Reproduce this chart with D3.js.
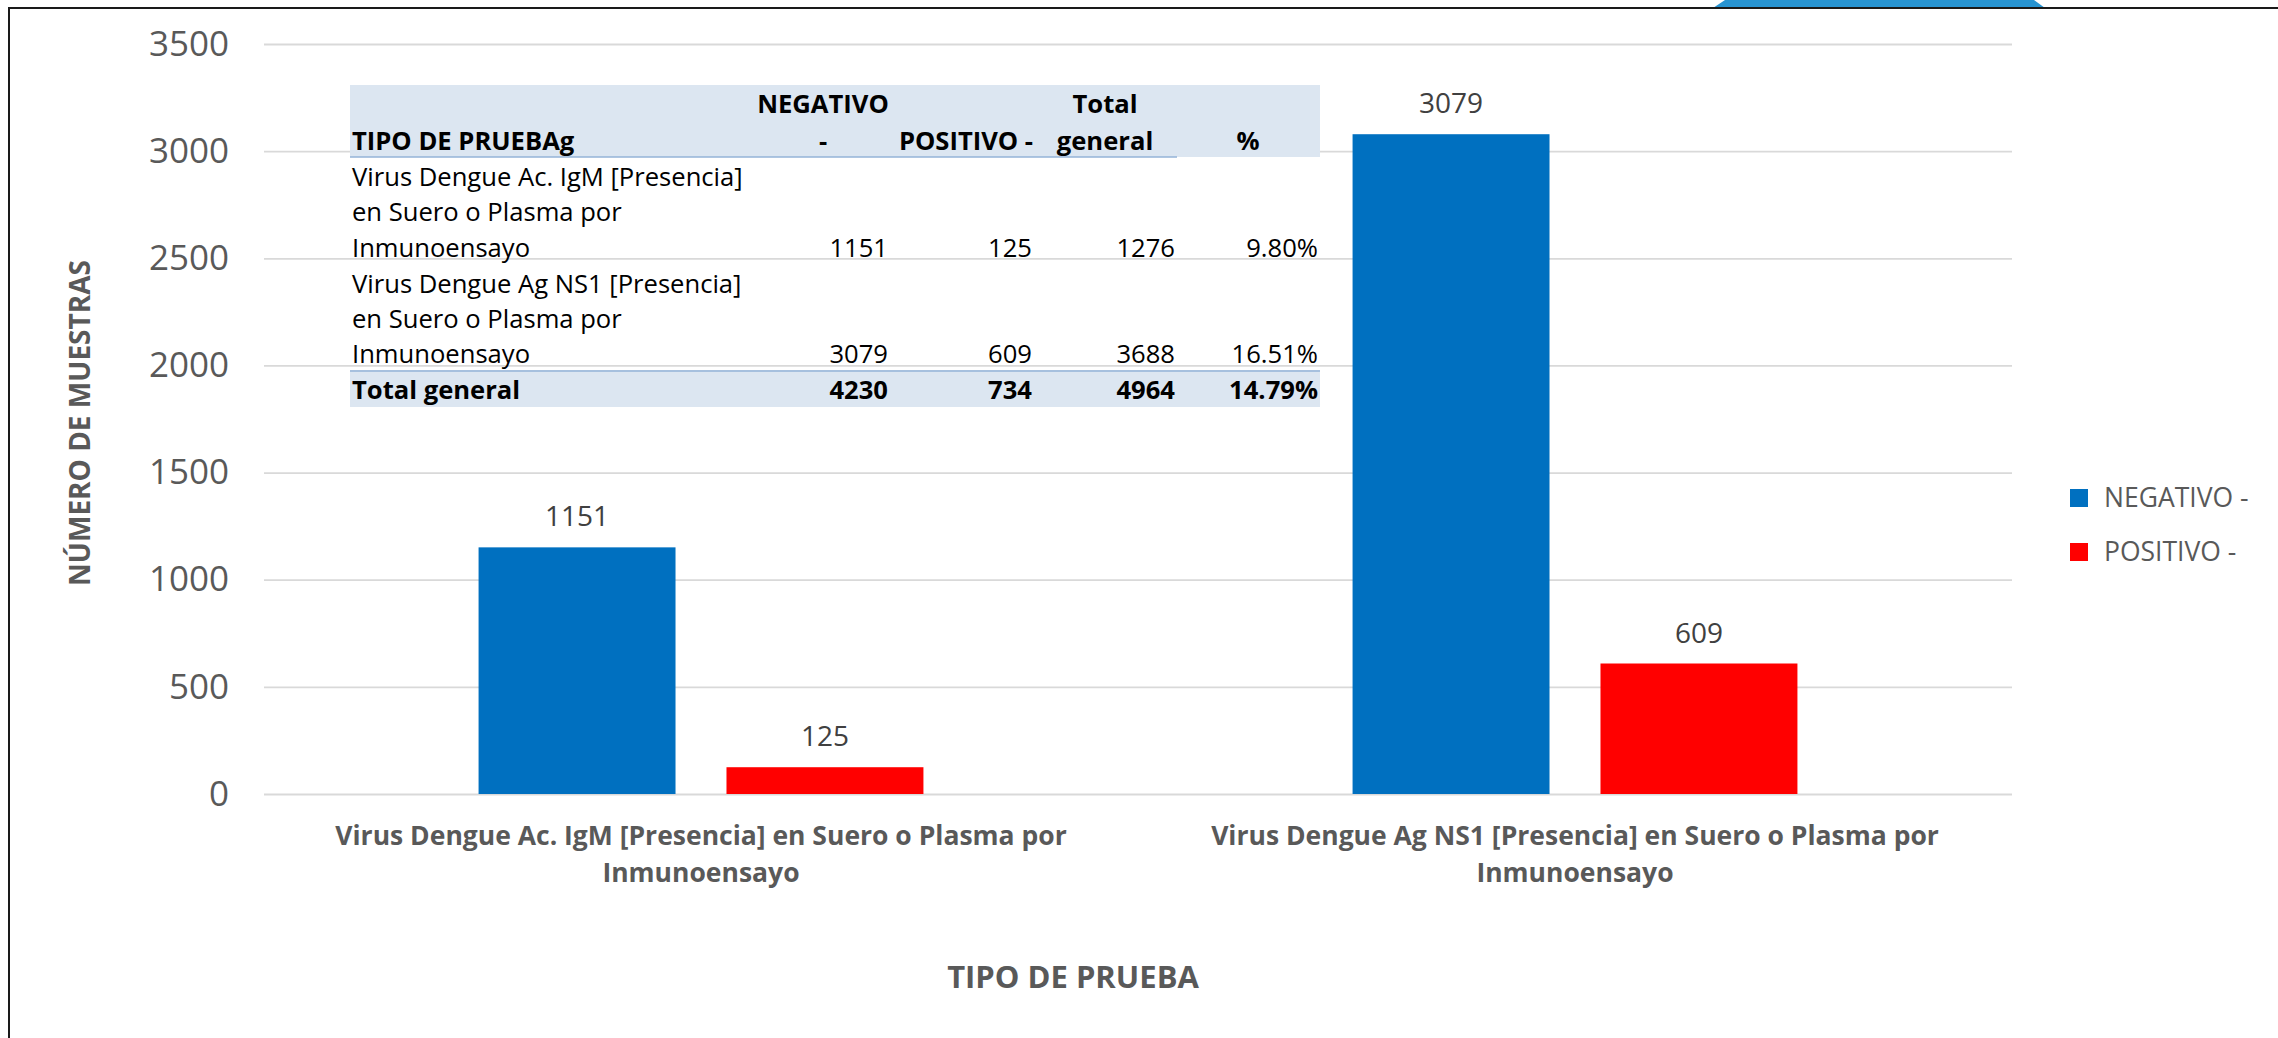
<!DOCTYPE html>
<html>
<head>
<meta charset="utf-8">
<script src="https://cdn.jsdelivr.net/npm/d3@7"></script>
<style>
  body { margin: 0; background: #fff; }
  svg { display: block; }
</style>
</head>
<body>
<svg id="chart" width="2278" height="1038"></svg>
<script>
// datos del grafico
var categories = ["Virus Dengue Ac. IgM [Presencia] en Suero o Plasma por Inmunoensayo",
                  "Virus Dengue Ag NS1 [Presencia] en Suero o Plasma por Inmunoensayo"]
var categoryLines = [["Virus Dengue Ac. IgM [Presencia] en Suero o Plasma por", "Inmunoensayo"],
                     ["Virus Dengue Ag NS1 [Presencia] en Suero o Plasma por", "Inmunoensayo"]]
var seriesNames = ["NEGATIVO -", "POSITIVO -"]
var negativo = [1151, 3079]
var positivo = [125, 609]
var yTicks = [0, 500, 1000, 1500, 2000, 2500, 3000, 3500]

// tabla dinamica
var tableHeader = [["NEGATIVO", "-"], ["", "POSITIVO -"], ["Total", "general"], ["", "%"]]
var tableRowLines = [["Virus Dengue Ac. IgM [Presencia]", "en Suero o Plasma por", "Inmunoensayo"],
                     ["Virus Dengue Ag NS1 [Presencia]", "en Suero o Plasma por", "Inmunoensayo"]]
var tableNeg = [1151, 3079]
var tablePos = [125, 609]
var tableTotal = [1276, 3688]
var tablePct = ["9.80%", "16.51%"]
var totalRow = ["Total general", "4230", "734", "4964", "14.79%"]

var svg = d3.select('#chart')
var width = 2278, height = 1038
var margin = ({top: 44, right: 266, bottom: 244, left: 264})

var gray = '#595959'
var font = "'Open Sans', 'Noto Sans', sans-serif"

var x0 = d3.scaleBand()
    .domain(categories)
    .range([margin.left, width - margin.right])
    .paddingInner(0.491)
    .paddingOuter(0.2455)

var x1 = d3.scaleBand()
    .domain(seriesNames)
    .range([0, x0.bandwidth()])
    .paddingInner(0.2056)

var y = d3.scaleLinear()
    .domain([0, 3500])
    .range([height - margin.bottom, margin.top])

var color = d3.scaleOrdinal().domain(seriesNames).range(['#0070c0', '#ff0000'])

var data = categories.map((c, i) => ({cat: c, values: [
    {key: seriesNames[0], value: negativo[i]},
    {key: seriesNames[1], value: positivo[i]}]}))

// forma azul arriba y borde
svg.append('path')
    .attr('d', 'M1725,0 L2034,0 L2045,8 L1713,8 Z')
    .attr('fill', '#2794d2')
svg.append('path')
    .attr('d', `M9,${height + 5} L9,8 L${width + 5},8`)
    .attr('fill', 'none')
    .attr('stroke', '#1a1a1a')
    .attr('stroke-width', 2)

// eje y + lineas de cuadricula
var yAxis = svg.append('g')
    .attr('transform', `translate(${margin.left},0)`)
    .call(d3.axisLeft(y).tickValues(yTicks).tickFormat(d3.format('d'))
        .tickSize(-(width - margin.left - margin.right)).tickPadding(35))
yAxis.select('.domain').remove()
yAxis.selectAll('line').attr('stroke', '#d9d9d9').attr('stroke-width', 1.8)
yAxis.selectAll('text')
    .attr('fill', gray)
    .attr('font-family', font)
    .attr('font-size', '35px')

// fondo de la tabla
var tLeft = 350, tRight = 1320
svg.append('rect').attr('x', tLeft).attr('y', 85).attr('width', tRight - tLeft).attr('height', 72).attr('fill', '#dce6f1')
svg.append('rect').attr('x', tLeft).attr('y', 370).attr('width', tRight - tLeft).attr('height', 37).attr('fill', '#dce6f1')
svg.append('line').attr('x1', tLeft).attr('x2', 1177).attr('y1', 157).attr('y2', 157).attr('stroke', '#95b3d7').attr('stroke-width', 1.5)
svg.append('line').attr('x1', tLeft).attr('x2', tRight).attr('y1', 371).attr('y2', 371).attr('stroke', '#95b3d7').attr('stroke-width', 1.5)

// barras
var groups = svg.append('g').selectAll('g')
    .data(data)
    .enter().append('g')
    .attr('transform', d => `translate(${x0(d.cat)},0)`)

groups.selectAll('rect')
    .data(d => d.values)
    .enter().append('rect')
    .attr('x', d => x1(d.key))
    .attr('y', d => y(d.value))
    .attr('width', x1.bandwidth())
    .attr('height', d => y(0) - y(d.value))
    .attr('fill', d => color(d.key))

groups.selectAll('text')
    .data(d => d.values)
    .enter().append('text')
    .attr('x', d => x1(d.key) + x1.bandwidth() / 2)
    .attr('y', d => y(d.value) - 21)
    .attr('text-anchor', 'middle')
    .attr('fill', '#404040')
    .attr('font-family', font)
    .attr('font-size', '28px')
    .text(d => d.value)

// etiquetas de categoria
categories.forEach(function(c, i) {
    svg.append('text')
        .attr('x', x0(c) + x0.bandwidth() / 2)
        .attr('text-anchor', 'middle')
        .attr('fill', gray)
        .attr('font-family', font)
        .attr('font-weight', 'bold')
        .attr('font-size', '26.5px')
        .selectAll('tspan').data(categoryLines[i])
        .enter().append('tspan')
        .attr('x', x0(c) + x0.bandwidth() / 2)
        .attr('y', (d, j) => 845 + j * 37)
        .text(d => d)
})

// titulos de ejes
svg.append('text')
    .attr('x', 1073)
    .attr('y', 988)
    .attr('text-anchor', 'middle')
    .attr('fill', gray)
    .attr('font-family', font)
    .attr('font-weight', 'bold')
    .attr('font-size', '31px')
    .text('TIPO DE PRUEBA')

svg.append('text')
    .attr('transform', 'translate(90,423) rotate(-90)')
    .attr('text-anchor', 'middle')
    .attr('fill', gray)
    .attr('font-family', font)
    .attr('font-weight', 'bold')
    .attr('font-size', '28px')
    .text('NÚMERO DE MUESTRAS')

// leyenda
var legend = svg.append('g')
legend.selectAll('rect').data(seriesNames)
    .enter().append('rect')
    .attr('x', 2070)
    .attr('y', (d, i) => 489 + i * 54)
    .attr('width', 18)
    .attr('height', 18)
    .attr('fill', d => color(d))
legend.selectAll('text').data(seriesNames)
    .enter().append('text')
    .attr('x', 2104)
    .attr('y', (d, i) => 498 + i * 54)
    .attr('dy', '0.35em')
    .attr('fill', gray)
    .attr('font-family', font)
    .attr('font-size', '26.5px')
    .text(d => d)

// texto de la tabla
var table = svg.append('g')
    .attr('font-family', font)
    .attr('font-size', '25.6px')
    .attr('fill', '#000')
var colCenter = [823, 966, 1105, 1248]
var colRight = [888, 1032, 1175, 1318]

table.append('text').attr('x', 352).attr('y', 150).attr('font-weight', 'bold').text('TIPO DE PRUEBAg')
tableHeader.forEach(function(h, i) {
    h.forEach(function(t, j) {
        table.append('text')
            .attr('x', colCenter[i])
            .attr('y', 113 + j * 37)
            .attr('text-anchor', 'middle')
            .attr('font-weight', 'bold')
            .text(t)
    })
})

tableRowLines.forEach(function(lines, r) {
    var base = 186 + r * 106.5
    lines.forEach(function(t, j) {
        table.append('text').attr('x', 352).attr('y', base + j * 35.3).text(t)
    })
    var nums = [tableNeg[r], tablePos[r], tableTotal[r], tablePct[r]]
    nums.forEach(function(v, k) {
        table.append('text')
            .attr('x', colRight[k])
            .attr('y', base + 2 * 35.3)
            .attr('text-anchor', 'end')
            .text(v)
    })
})

totalRow.forEach(function(v, k) {
    table.append('text')
        .attr('x', k == 0 ? 352 : colRight[k - 1])
        .attr('y', 399)
        .attr('text-anchor', k == 0 ? 'start' : 'end')
        .attr('font-weight', 'bold')
        .text(v)
})
</script>
</body>
</html>
